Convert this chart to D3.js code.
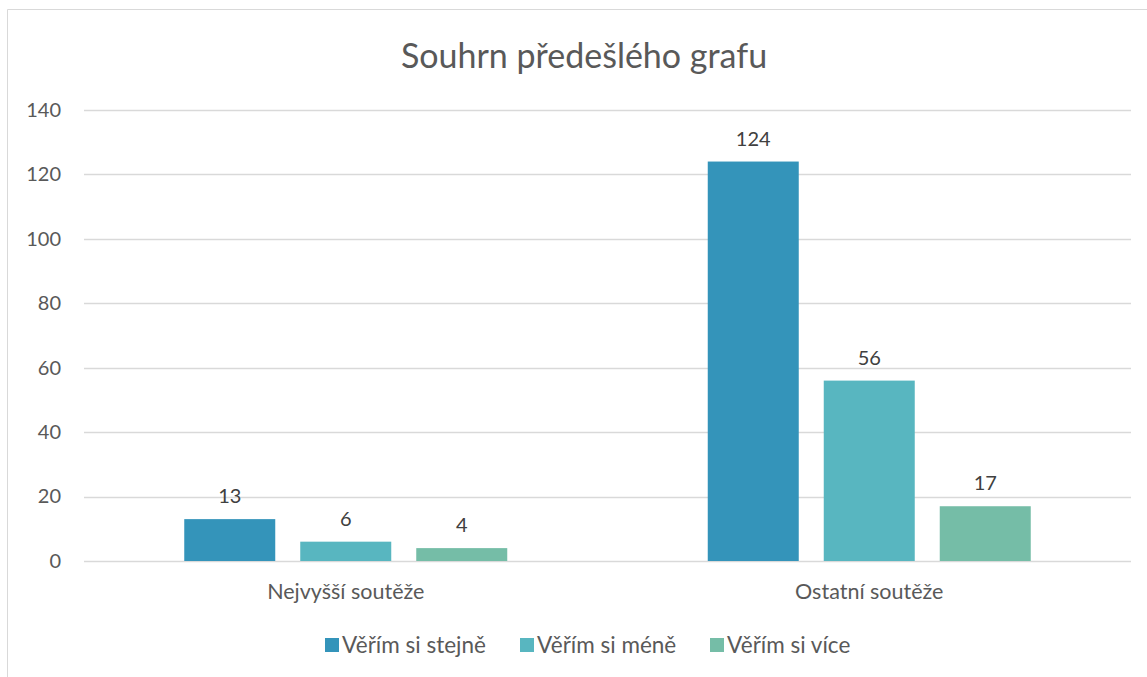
<!DOCTYPE html>
<html>
<head>
<meta charset="utf-8">
<script src="https://cdnjs.cloudflare.com/ajax/libs/d3/7.8.5/d3.min.js"></script>
<style>
  body { margin: 0; background: #fff; }
  text { font-family: Lato, "Open Sans", sans-serif; }
</style>
</head>
<body>
<div id="chart"></div>
<script>
var categories = ["Nejvyšší soutěže", "Ostatní soutěže"];
var seriesNames = ["Věřím si stejně", "Věřím si méně", "Věřím si více"];
var seriesColors = ["#3494BA", "#58B6C0", "#75BDA7"];
var stejne = [13, 124];
var mene = [6, 56];
var vice = [4, 17];
var yTicks = [0, 20, 40, 60, 80, 100, 120, 140];
var title = "Souhrn předešlého grafu";

var seriesValues = [stejne, mene, vice];

var W = 1147, H = 677;
var margin = {left: 84, right: 16, top: 110, bottom: 116};
var width = W - margin.left - margin.right;
var height = H - margin.top - margin.bottom;

var svg = d3.select("#chart")
    .append("svg")
        .attr("width", W)
        .attr("height", H);

// outer chart border (only partially visible in the crop)
svg.append("path")
    .attr("d", "M7.5," + H + " L7.5,9.5 L" + W + ",9.5")
    .style("fill", "none")
    .style("stroke", "#d9d9d9")
    .style("stroke-width", 1);

svg.append("text")
    .attr("x", 584)
    .attr("y", 68)
    .style("text-anchor", "middle")
    .style("font-size", "34px")
    .style("fill", "#595959")
    .text(title);

var g = svg.append("g")
    .attr("transform", "translate(" + margin.left + "," + margin.top + ")");

var y = d3.scaleLinear().domain([0, 140]).range([height, 0]);
var x0 = d3.scaleBand().domain(categories).range([0, width]).padding(0);
var groupW = 323;
var x1 = d3.scaleBand().domain(seriesNames)
    .range([(x0.bandwidth() - groupW) / 2, (x0.bandwidth() + groupW) / 2])
    .paddingInner(25 / 116).paddingOuter(0);

// gridlines
g.append("g")
    .selectAll("line")
    .data(yTicks)
    .enter()
    .append("line")
    .attr("x1", 0)
    .attr("x2", width)
    .attr("y1", function(d) { return Math.round(y(d)) + 0.5; })
    .attr("y2", function(d) { return Math.round(y(d)) + 0.5; })
    .style("stroke", "#d9d9d9")
    .style("stroke-width", 1.5);

// y axis labels
var yAxis = g.append("g")
    .call(d3.axisLeft(y).tickValues(yTicks).tickSize(0).tickPadding(23));
yAxis.select(".domain").remove();
yAxis.selectAll("text")
    .style("font-family", "Lato, sans-serif")
    .style("font-size", "20px")
    .style("fill", "#595959");

// bars
var groups = g.selectAll(".cat")
    .data(categories)
    .enter()
    .append("g")
    .attr("transform", function(d) { return "translate(" + x0(d) + ",0)"; });

groups.selectAll("rect")
    .data(function(d, ci) {
        return seriesNames.map(function(s, si) {
            return {series: s, value: seriesValues[si][ci], color: seriesColors[si]};
        });
    })
    .enter()
    .append("rect")
    .attr("x", function(d) { return x1(d.series); })
    .attr("y", function(d) { return y(d.value); })
    .attr("width", x1.bandwidth())
    .attr("height", function(d) { return height - y(d.value); })
    .style("fill", function(d) { return d.color; });

groups.selectAll(".val")
    .data(function(d, ci) {
        return seriesNames.map(function(s, si) {
            return {series: s, value: seriesValues[si][ci]};
        });
    })
    .enter()
    .append("text")
    .attr("x", function(d) { return x1(d.series) + x1.bandwidth() / 2; })
    .attr("y", function(d) { return y(d.value) - 16; })
    .style("text-anchor", "middle")
    .style("font-size", "20px")
    .style("fill", "#404040")
    .text(function(d) { return d.value; });

// category labels
g.append("g")
    .selectAll("text")
    .data(categories)
    .enter()
    .append("text")
    .attr("x", function(d) { return x0(d) + x0.bandwidth() / 2; })
    .attr("y", height + 38)
    .style("text-anchor", "middle")
    .style("font-size", "21.5px")
    .style("fill", "#595959")
    .text(function(d) { return d; });

// legend
var legendX = [325, 520, 710];
var legend = svg.append("g").selectAll("g")
    .data(seriesNames)
    .enter()
    .append("g")
    .attr("transform", function(d, i) { return "translate(" + legendX[i] + ",638)"; });
legend.append("rect")
    .attr("width", 14)
    .attr("height", 14)
    .style("fill", function(d, i) { return seriesColors[i]; });
legend.append("text")
    .attr("x", 17)
    .attr("y", 14.5)
    .style("font-size", "22.5px")
    .style("fill", "#595959")
    .text(function(d) { return d; });
</script>
</body>
</html>
